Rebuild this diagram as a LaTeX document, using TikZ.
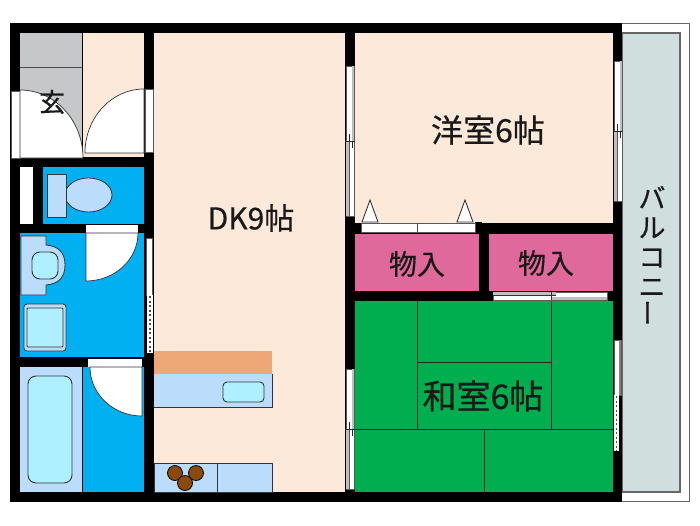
\documentclass[tikz,border=0pt]{standalone}
\usepackage{fontspec}
\setmainfont{Noto Sans CJK JP}[FakeBold=0.5]
\definecolor{peach}{HTML}{FDE9D9}
\definecolor{hallgray}{HTML}{C6C7C9}
\definecolor{wetblue}{HTML}{00B0F0}
\definecolor{paleblue}{HTML}{BBDDFB}
\definecolor{basinblue}{HTML}{AEF0FF}
\definecolor{tatami}{HTML}{00AE50}
\definecolor{closetpink}{HTML}{E0699C}
\definecolor{balconygray}{HTML}{D0DEDE}
\definecolor{counterorange}{HTML}{EEA877}
\definecolor{burnerbrown}{HTML}{8B4A0B}
\tikzset{
  room/.style={fill=#1,draw=none},
  wall/.style={fill=black,draw=none},
  fixture/.style={fill=paleblue,draw=black!80,line width=0.8pt},
  basin/.style={fill=basinblue,draw=black!80,line width=0.9pt,rounded corners=4pt},
  tatamiline/.style={draw=black!85,line width=0.8pt},
  opening/.style={fill=white,draw=black!65,line width=0.6pt},
  doorleaf/.style={fill=white,draw=black!80,line width=0.7pt},
  glass/.style={draw=black!65,line width=0.7pt},
  beads/.style={draw=black!70,line width=1.6pt,dash pattern=on 2pt off 2.5pt},
  burner/.style={circle,fill=burnerbrown,draw=black,line width=0.8pt,minimum size=15pt,inner sep=0pt},
  label/.style={inner sep=0pt,text=black!90},
}
\begin{document}
\begin{tikzpicture}[x=1pt,y=-1pt]
  \useasboundingbox (0,0) rectangle (700,525);
  % Sizes
  \pgfmathsetmacro{\fontroom}{32}
  \pgfmathsetmacro{\fontwashi}{34}
  \pgfmathsetmacro{\fontdk}{30}
  \pgfmathsetmacro{\fontcloset}{28}

  % balcony
  \draw[black!60,line width=1pt] (622,23) -- (689,23) -- (689,501) -- (622,501);
  \draw[room=balconygray,draw=black!60,line width=1.2pt] (622,33) -- (680,33) -- (680,492) -- (622,492) -- cycle;

  % floors
  \fill[black] (10,23) rectangle (622,502);
  \fill[room=peach] (154,33) rectangle (345,492);
  \fill[room=peach] (355,33) rectangle (613,223);
  \fill[room=peach] (83,33) rectangle (144,157);
  \fill[room=hallgray] (20,33) rectangle (82,158);
  \fill[room=wetblue] (43,167) rectangle (144,224);
  \fill[room=white] (20,167) rectangle (33,224);
  \fill[room=wetblue] (20,233) rectangle (144,357);
  \fill[room=wetblue] (83,367) rectangle (144,492);
  \fill[room=closetpink] (355,234) rectangle (479,291);
  \fill[room=closetpink] (489,234) rectangle (613,291);
  \fill[room=tatami] (355,301) rectangle (613,492);

  % entrance
  \draw[black!70,line width=0.7pt] (20,67) -- (82,67);
  \draw[opening] (11,91) rectangle (20,158);
  \draw[doorleaf] (20,158) -- (20,90) arc[start angle=-90,end angle=0,x radius=63,y radius=68] -- cycle;
  \draw[opening] (145,89) rectangle (153,152);
  \draw[doorleaf] (144,153) -- (144,89) arc[start angle=-90,end angle=-180,x radius=59,y radius=64] -- cycle;

  % toilet
  \draw[fixture] (88.5,195) ellipse[x radius=23.5,y radius=17];
  \draw[fixture] (47,174) rectangle (66,217);

  % washroom
  \draw[opening,draw=none] (86,225) rectangle (138,233);
  \draw[doorleaf] (86,233) -- (138,233) arc[start angle=0,end angle=90,x radius=52,y radius=48] -- cycle;
  \draw[fixture] (21,236) -- (46,236) -- (46,245) .. controls (58,246) and (65,252) .. (65,265) .. controls (65,278) and (58,284) .. (46,285) -- (46,295) -- (21,295) -- cycle;
  \draw[basin,rounded corners=8pt] (32,252) rectangle (58,279);
  \draw[fixture,rounded corners=3pt] (24,304) rectangle (66,351);
  \draw[basin,rounded corners=1pt] (27,308) rectangle (63,347);
  \draw[opening] (146,238) rectangle (152,295);
  \fill[white] (147,295) rectangle (153,353);
  \draw[beads] (150,296) -- (150,353);

  % bath
  \draw[opening,draw=none] (88,359) rectangle (142,367);
  \draw[doorleaf] (142,367) -- (90,367) arc[start angle=180,end angle=90,x radius=52,y radius=49] -- cycle;
  \fill[room=paleblue] (20,367) rectangle (82,492);
  \draw[basin,rounded corners=8pt] (28,376) rectangle (72,483);

  % kitchen
  \fill[room=paleblue] (154,374) rectangle (272,407);
  \draw[black!80,line width=0.7pt] (154,407) -- (272,407) -- (272,374);
  \fill[room=counterorange] (154,351) rectangle (272,374);
  \draw[basin] (223,382) rectangle (264,402);
  \draw[fixture] (154,463) rectangle (272,492);
  \draw[black!80,line width=0.8pt] (217,463) -- (217,492);
  \node[burner] (burnerleft) at (175,473) {};
  \node[burner] (burnerright) at (196,473) {};
  \node[burner] (burnerfront) at (185,483) {};

  % windows
  \foreach \wx/\wtop/\wmid/\wbot in {346/66/141/216, 346/369/429/489, 614/61/131/201}{
    \draw[opening] (\wx,\wtop) rectangle (\wx+8,\wbot);
    \draw[glass] (\wx+6,\wtop) -- (\wx+6,\wmid);
    \draw[glass] (\wx+3,\wmid) -- (\wx+3,\wbot);
    \fill[black!25] (\wx+6,\wtop) rectangle (\wx+8,\wmid);
    \fill[black!25] (\wx,\wmid) rectangle (\wx+3,\wbot);
    \draw[black!85,line width=0.7pt] (\wx-1,\wmid) -- (\wx+9,\wmid);
    \draw[black!85,line width=0.6pt] (\wx+3,\wmid-7) -- (\wx+3,\wmid);
    \draw[black!85,line width=0.6pt] (\wx+6,\wmid) -- (\wx+6,\wmid+7);
  }
  \draw[opening] (614,340) rectangle (621,395);
  \fill[black!50] (619,340) rectangle (621,395);
  \fill[white] (614,395) rectangle (619,451);
  \draw[beads] (616.5,396) -- (616.5,451);

  % closet doors
  \fill[wall] (475,222) rectangle (482,224);
  \draw[opening] (361,223) rectangle (475,232);
  \draw[black!70,line width=0.7pt] (417,223) -- (417,232);
  \draw[doorleaf,line width=0.9pt] (370,200) -- (378,222) -- (362,222) -- cycle;
  \draw[doorleaf,line width=0.9pt] (465,200) -- (473,222) -- (457,222) -- cycle;
  \draw[opening] (493,292) rectangle (607,300);
  \fill[black!25] (493,292) rectangle (556,295);
  \fill[black!25] (551,297) rectangle (607,300);
  \draw[black!80,line width=0.7pt] (493,295.5) -- (556,295.5);
  \draw[black!80,line width=0.7pt] (551,292) -- (551,300);

  % tatami
  \draw[tatamiline] (417,301) -- (417,429);
  \draw[tatamiline] (551,301) -- (551,429);
  \draw[tatamiline] (417,362) -- (551,362);
  \draw[tatamiline] (355,429) -- (613,429);
  \draw[tatamiline] (484,429) -- (484,492);

  % labels
  \node[label,font=\fontsize{26}{26}\selectfont] (entrance) at (52,102) {玄};
  \node[label,font=\fontsize{\fontdk}{\fontdk}\selectfont] (kitchen) at (251,218) {DK9帖};
  \node[label,font=\fontsize{\fontroom}{\fontroom}\selectfont] (western) at (488,130) {洋室6帖};
  \node[label,font=\fontsize{\fontcloset}{\fontcloset}\selectfont] (closetleft) at (417,264) {物入};
  \node[label,font=\fontsize{\fontcloset}{\fontcloset}\selectfont] (closetright) at (546,263) {物入};
  \node[label,font=\fontsize{\fontwashi}{\fontwashi}\selectfont] (japanese) at (483,396) {和室6帖};
  \node[label,font=\fontsize{27}{29.5}\selectfont,align=center] (balcony) at (652,256) {バ\\ル\\コ\\ニ\\\rotatebox{90}{ー}};
\end{tikzpicture}
\end{document}
